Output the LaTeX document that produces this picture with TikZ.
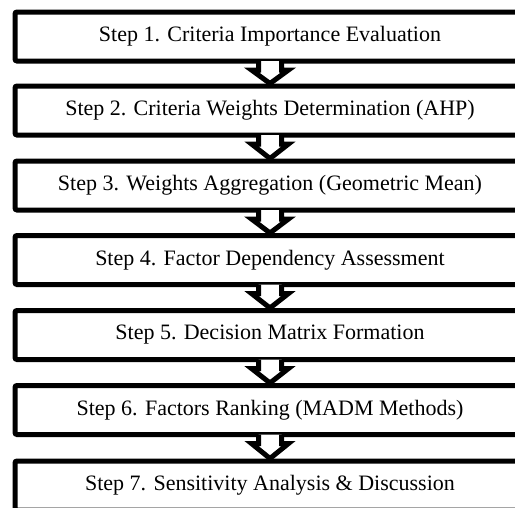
\documentclass[tikz,border=0pt]{standalone}
\usepackage{fontspec}
\setmainfont{Liberation Serif}
\usetikzlibrary{calc}
\tikzset{
  stepbox/.style={draw=black, line width=5pt, rounded corners=2pt, fill=white,
    minimum width=510pt, minimum height=49pt, inner sep=0pt,
    font=\fontsize{22pt}{26pt}\selectfont, text=black},
  chevline/.style={draw=black, line width=5pt, line join=miter},
}
\newcommand\chev[2]{%
  \fill[white] ($(#1.south)+(-11.5,2.5)$) -- ($(#1.south)+(-11.5,-6.5)$) --
    ($(#1.south)+(-18.5,-6.5)$) -- (#2.north) -- ($(#1.south)+(18.5,-6.5)$) --
    ($(#1.south)+(11.5,-6.5)$) -- ($(#1.south)+(11.5,2.5)$) -- cycle;
  \draw[chevline] ($(#1.south)+(-11.5,2.5)$) -- ($(#1.south)+(-11.5,-6.5)$) --
    ($(#1.south)+(-18.5,-6.5)$) -- (#2.north) -- ($(#1.south)+(18.5,-6.5)$) --
    ($(#1.south)+(11.5,-6.5)$) -- ($(#1.south)+(11.5,2.5)$);
}
\begin{document}
\begin{tikzpicture}[x=1pt,y=1pt]
  \useasboundingbox (0,0) rectangle (515,-507);
  \clip (0,0) rectangle (515,-507);
  \fill[white] (0,0) rectangle (515,-507);
  \node[stepbox] (s1) at (270,-36.5)  {Step 1. Criteria Importance Evaluation};
  \node[stepbox] (s2) at (270,-110.5) {Step 2. Criteria Weights Determination (AHP)};
  \node[stepbox] (s3) at (270,-185.5) {Step 3. Weights Aggregation (Geometric Mean)};
  \node[stepbox] (s4) at (270,-260)   {Step 4. Factor Dependency Assessment};
  \node[stepbox] (s5) at (270,-335)   {Step 5. Decision Matrix Formation};
  \node[stepbox] (s6) at (270,-410)   {Step 6. Factors Ranking (MADM Methods)};
  \node[stepbox] (s7) at (270,-485.5) {Step 7. Sensitivity Analysis \& Discussion};
  \chev{s1}{s2}
  \chev{s2}{s3}
  \chev{s3}{s4}
  \chev{s4}{s5}
  \chev{s5}{s6}
  \chev{s6}{s7}
\end{tikzpicture}
\end{document}
